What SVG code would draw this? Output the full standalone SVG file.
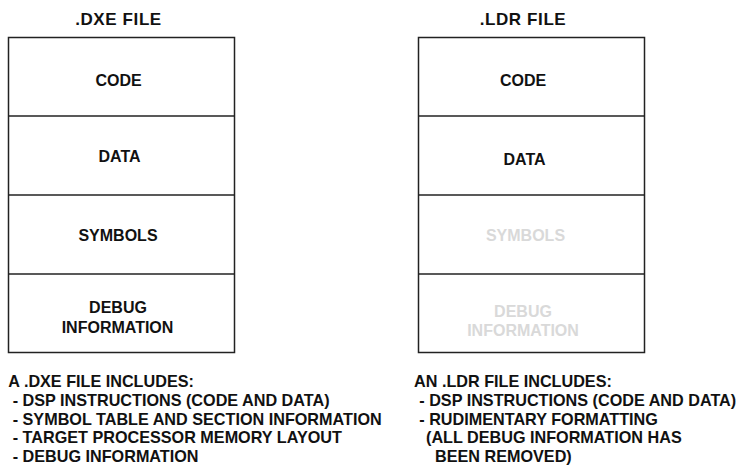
<svg xmlns="http://www.w3.org/2000/svg" width="739" height="466" viewBox="0 0 739 466">
<style>
text{font-family:"Liberation Sans",Arial,Helvetica,sans-serif;font-weight:bold;fill:#111}
.title{font-size:17px;text-anchor:middle;letter-spacing:0.6px}
.lbl{font-size:16px;text-anchor:middle}
.gone{fill:#d9d9d9}
.note{font-size:16.2px}
.box{fill:#fff;stroke:#222;stroke-width:1.5}
.div{stroke:#222;stroke-width:1.5}
</style>
<rect width="739" height="466" fill="#fff"/>
<g id="dxe">
<text class="title" x="118.5" y="25">.DXE FILE</text>
<rect class="box" x="8.5" y="37.5" width="226" height="315"/>
<line class="div" x1="8.5" y1="116" x2="234.5" y2="116"/>
<line class="div" x1="8.5" y1="195" x2="234.5" y2="195"/>
<line class="div" x1="8.5" y1="274" x2="234.5" y2="274"/>
<text class="lbl" x="118.5" y="85.7">CODE</text>
<text class="lbl" x="119.5" y="161.7">DATA</text>
<text class="lbl" x="118" y="240.7">SYMBOLS</text>
<text class="lbl" x="118" y="313.3">DEBUG</text>
<text class="lbl" x="117.5" y="333.3">INFORMATION</text>
</g>
<g id="ldr">
<text class="title" x="523" y="25">.LDR FILE</text>
<rect class="box" x="418.5" y="37.5" width="226" height="315"/>
<line class="div" x1="418.5" y1="116" x2="644.5" y2="116"/>
<line class="div" x1="418.5" y1="195" x2="644.5" y2="195"/>
<line class="div" x1="418.5" y1="274" x2="644.5" y2="274"/>
<text class="lbl" x="523" y="85.7">CODE</text>
<text class="lbl" x="524.5" y="165">DATA</text>
<text class="lbl gone" x="525.5" y="240.7">SYMBOLS</text>
<text class="lbl gone" x="523" y="316.7">DEBUG</text>
<text class="lbl gone" x="523" y="335.7">INFORMATION</text>
</g>
<g id="dxe-notes">
<text class="note" x="8.3" y="387">A .DXE FILE INCLUDES:</text>
<text class="note" x="12.7" y="406">- DSP INSTRUCTIONS (CODE AND DATA)</text>
<text class="note" x="12.7" y="424.5">- SYMBOL TABLE AND SECTION INFORMATION</text>
<text class="note" x="12.7" y="443">- TARGET PROCESSOR MEMORY LAYOUT</text>
<text class="note" x="12.7" y="462">- DEBUG INFORMATION</text>
</g>
<g id="ldr-notes">
<text class="note" x="414" y="387">AN .LDR FILE INCLUDES:</text>
<text class="note" x="419.3" y="406">- DSP INSTRUCTIONS (CODE AND DATA)</text>
<text class="note" x="419.3" y="424.5">- RUDIMENTARY FORMATTING</text>
<text class="note" x="426" y="443">(ALL DEBUG INFORMATION HAS</text>
<text class="note" x="435" y="462">BEEN REMOVED)</text>
</g>
<g id="connectors"/>
</svg>
